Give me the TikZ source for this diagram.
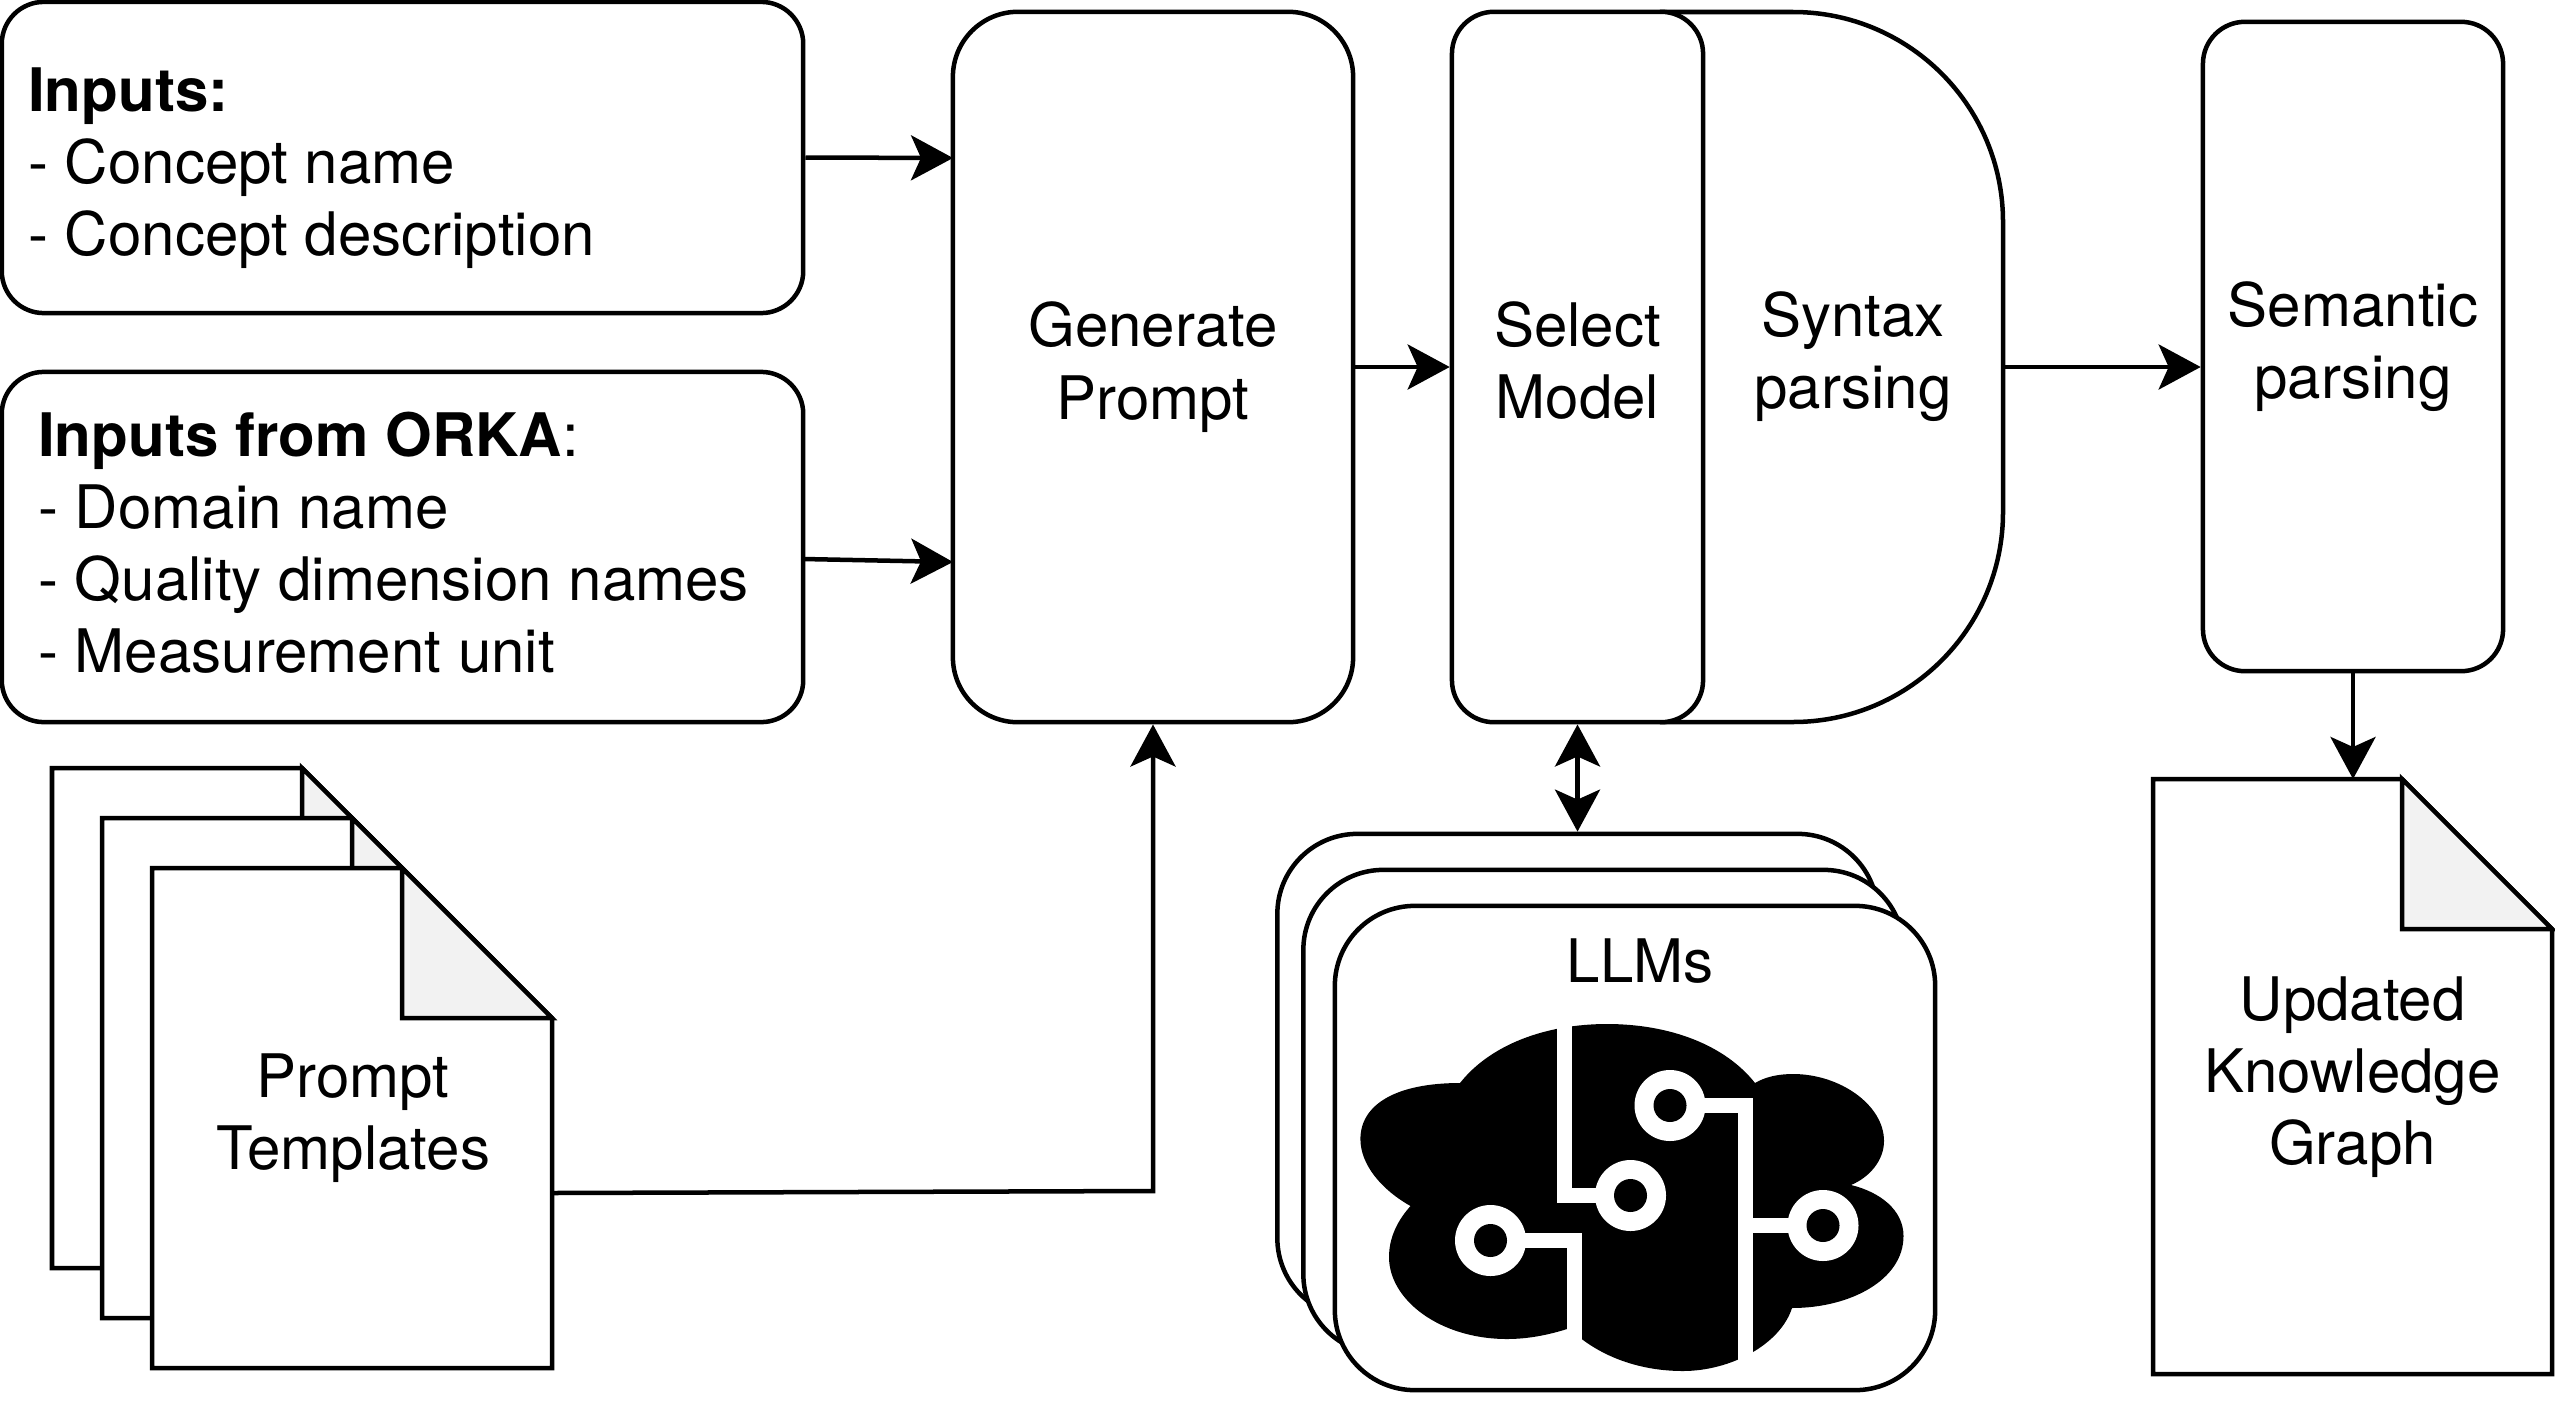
\documentclass[tikz,border=0pt]{standalone}
\usepackage{fontspec}
\setmainfont{TeX Gyre Heros}
\usetikzlibrary{arrows.meta}
\tikzset{
  boxtext/.style={font=\fontsize{17.07}{20.49}\selectfont,align=center,inner sep=0pt},
  smallbox/.style={boxtext,draw,fill=white,rounded corners=0.42cm},
  bigbox/.style={boxtext,draw,fill=white,rounded corners=0.65cm},
  llmbox/.style={draw,fill=white,rounded corners=0.8cm,minimum width=6cm,minimum height=4.84cm},
  arrow/.style={-{Stealth[length=0.42cm,width=0.45cm,inset=0.1cm]}},
  twoarrow/.style={{Stealth[length=0.42cm,width=0.45cm,inset=0.1cm]}-{Stealth[length=0.42cm,width=0.45cm,inset=0.1cm]}},
  trace/.style={draw=white,line width=0.15cm}
}
% sheet with a folded corner: x, y, width, height, fold
\newcommand{\sheet}[5]{
  \draw[fill=white] (#1,#2) -- ++({#3-#5},0) -- ++(#5,#5) -- ++(0,{#4-#5}) -- ++(-#3,0) -- cycle;
  \draw[fill=black!5] ({#1+#3-#5},#2) -- ++(0,#5) -- ++(#5,0) -- cycle;
}
\begin{document}
\begin{tikzpicture}[x=0.01cm,y=-0.01cm,line width=0.045cm]
\useasboundingbox (0,0) rectangle (2555,1415);
% inputs
\node (inputs) at (402.5,157.5)[smallbox,minimum width=8.01cm,minimum height=3.11cm,text width=7.48cm,align=flush left]{\rule{0pt}{0.65cm}\textbf{Inputs:}\\- Concept name\\- Concept description};
\node (orka) at (402.5,547)[smallbox,minimum width=8.01cm,minimum height=3.5cm,text width=7.28cm,align=flush left]{\textbf{Inputs from ORKA}:\\- Domain name\\- Quality dimension names\\- Measurement unit\rule[-0.09cm]{0pt}{0pt}};
% templates
\sheet{52}{768}{400}{500}{150}
\sheet{102}{818}{400}{500}{150}
\sheet{152}{868}{400}{500}{150}
\node (templates) at (353,1118)[boxtext]{Prompt\\Templates};
% middle column
\node (genprompt) at (1153,367)[bigbox,minimum width=4cm,minimum height=7.1cm]{\rule{0pt}{0.45cm}Generate\\Prompt};
\draw[fill=white] (1662,12) -- (1793,12) .. controls (1909,12) and (2003,106) .. (2003,222) -- (2003,512) .. controls (2003,628) and (1909,722) .. (1793,722) -- (1662,722) -- cycle;
\node (syntax) at (1853,357)[boxtext]{Syntax\\parsing};
\coordinate (syntaxout) at (2003,367);
\node (select) at (1577.5,367)[smallbox,minimum width=2.51cm,minimum height=7.1cm]{Select\\Model\rule[-0.13cm]{0pt}{0pt}};
\node (semantic) at (2353,346.5)[smallbox,minimum width=3cm,minimum height=6.49cm]{Semantic\\parsing};
% result
\sheet{2153}{779}{399}{595}{150}
\node (updated) at (2352.5,1077.5)[boxtext]{Updated\\Knowledge\\Graph};
\coordinate (updatedin) at (2353,779);
% LLMs
\node (llmback) at (1577.5,1076)[llmbox]{};
\node (llmmid) at (1603.5,1112)[llmbox]{};
\node (llmfront) at (1635,1148)[llmbox]{};
\node (llmname) at (1640,961)[boxtext]{LLMs};
\fill (1460,1083) .. controls (1490,1045) and (1545,1024) .. (1607,1024) .. controls (1670,1024) and (1725,1045) .. (1755,1083)
  .. controls (1765,1077) and (1778,1074) .. (1793,1074) .. controls (1840,1074) and (1884,1105) .. (1884,1141) .. controls (1884,1160) and (1870,1177) .. (1851,1185)
  .. controls (1880,1192) and (1903.5,1210) .. (1903.5,1236) .. controls (1903.5,1280) and (1850,1308) .. (1792,1308)
  .. controls (1780,1345) and (1730,1371) .. (1683,1371) .. controls (1645,1371) and (1610,1360) .. (1583,1340)
  -- (1567,1329) .. controls (1548,1335) and (1528,1339) .. (1507,1339) .. controls (1440,1339) and (1389,1300) .. (1389,1257) .. controls (1389,1237) and (1398,1220) .. (1410.5,1206)
  .. controls (1382,1190) and (1360.4,1165) .. (1360.4,1139) .. controls (1360.4,1105) and (1395,1083) .. (1460,1083) -- cycle;
\draw[trace] (1564,1018) -- (1564,1195.5) -- (1630,1195.5);
\draw[trace] (1670,1105.5) -- (1745,1105.5) -- (1745,1368);
\draw[trace] (1823,1225.5) -- (1745,1225.5);
\draw[trace] (1490.5,1240.5) -- (1574.5,1240.5) -- (1574.5,1346);
\foreach \cx/\cy in {1670/1105.5,1630.5/1195.5,1823/1225.5,1490.5/1240.5}{
  \fill[white] (\cx,\cy) circle (35.5);
  \fill[black] (\cx,\cy) circle (16.5);
}
% connectors
\coordinate (inputsin) at (953,158);
\coordinate (orkaout) at (803,559);
\coordinate (orkain) at (953,562);
\coordinate (templatesout) at (552,1193);
\coordinate (templatesbend) at (1153,1191);
\draw[arrow] (inputs.east) -- (inputsin);
\draw[arrow] (orkaout) -- (orkain);
\draw[arrow] (templatesout) -- (templatesbend) -- (genprompt.south);
\draw[arrow] (genprompt.east) -- (select.west);
\draw[arrow] (syntaxout) -- (semantic.west |- syntaxout);
\draw[arrow] (semantic.south) -- (updatedin);
\draw[twoarrow] (select.south) -- (llmback.north);
\end{tikzpicture}
\end{document}
